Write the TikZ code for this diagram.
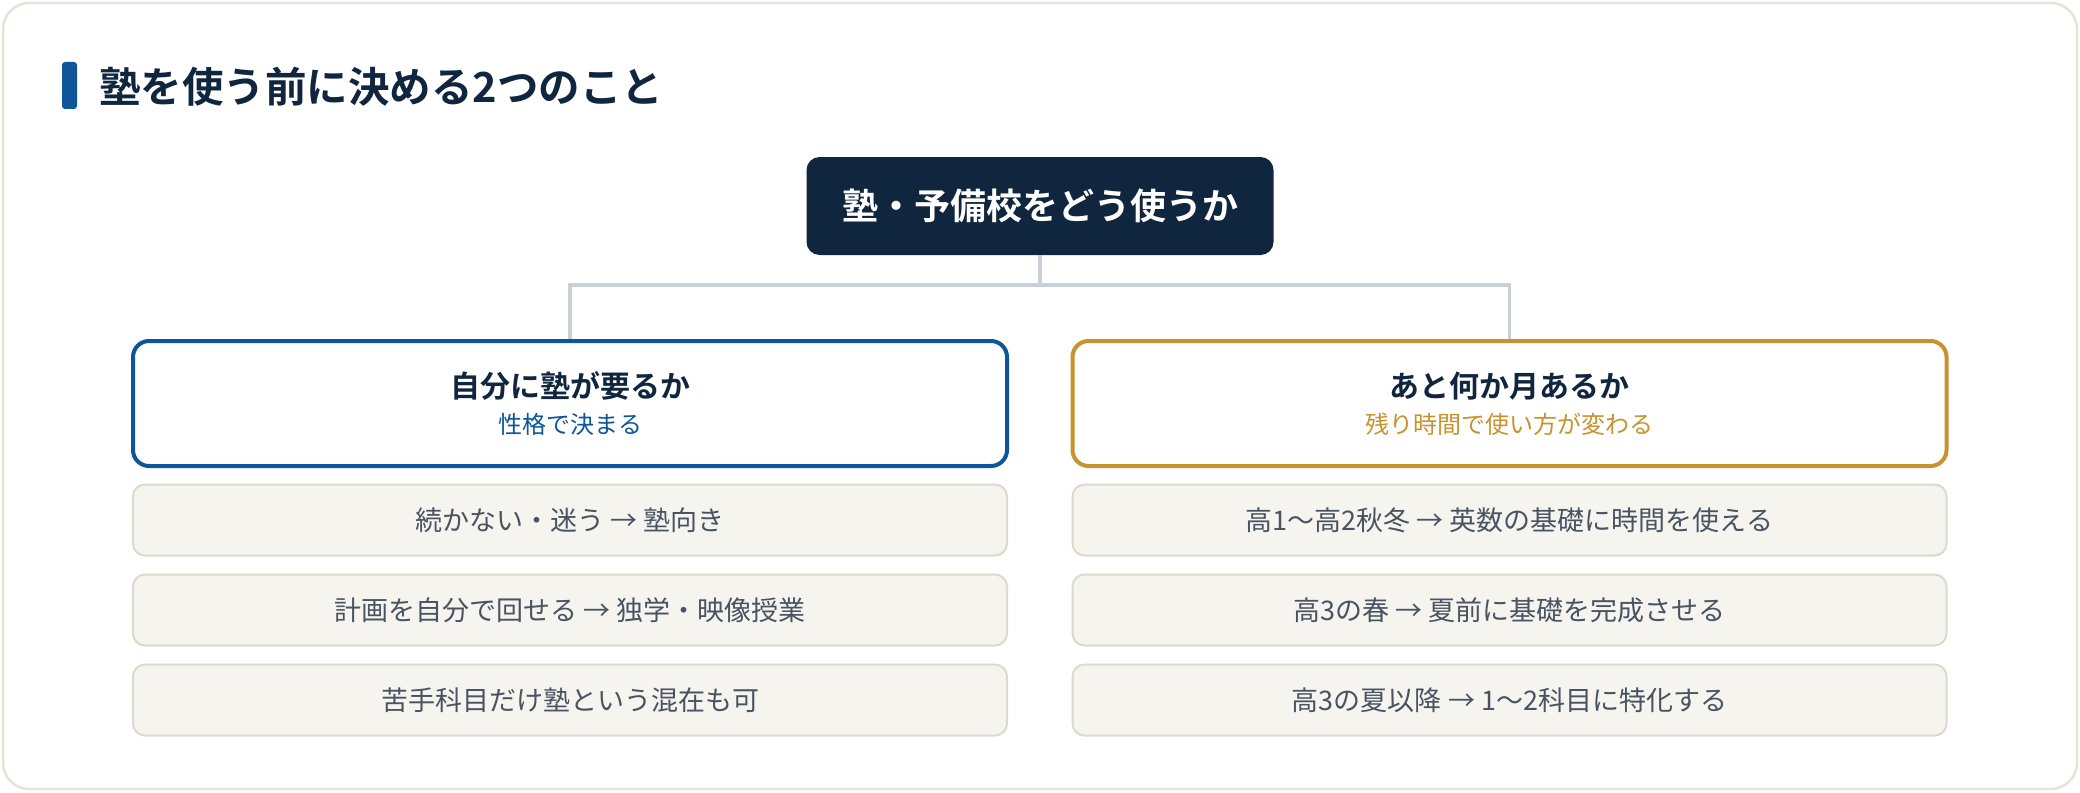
\documentclass[tikz,border=0pt]{standalone}
\usepackage{fontspec}
\setmainfont{Noto Sans CJK JP}[BoldFont={Noto Sans CJK JP Bold}]
\usetikzlibrary{positioning}
\definecolor{navy}{HTML}{10263F}
\definecolor{juku}{HTML}{0E5699}
\definecolor{gold}{HTML}{C8922F}
\definecolor{linkgray}{HTML}{C8D0DA}
\definecolor{itemfill}{HTML}{F5F4EF}
\definecolor{itemline}{HTML}{DDDACB}
\definecolor{itemtext}{HTML}{4A5361}
\definecolor{cardline}{HTML}{E6E4D8}

\begin{document}
\begin{tikzpicture}[x=.5pt, y=-.5pt,
    head/.style={draw, line width=2pt, fill=white, rounded corners=8pt,
      minimum width=437pt, minimum height=62.5pt, align=center, inner sep=0pt},
    item/.style={draw=itemline, line width=1pt, fill=itemfill, rounded corners=6pt,
      minimum width=437pt, minimum height=35.5pt, text=itemtext,
      font=\fontsize{13.5}{16}\selectfont},
    link/.style={draw=linkgray, line width=1.6pt}]
    \useasboundingbox (0,0) rectangle (2080,792);
    \draw[cardline, fill=white, line width=1.25pt, rounded corners=13pt] (3,3) rectangle (2077,789);

    % title
    \fill[juku, rounded corners=1.5pt] (62,62) rectangle (77,109);
    \node[anchor=west, inner sep=0pt, text=navy, font=\bfseries\fontsize{20.75}{24}\selectfont]
      (title) at (99,87) {塾を使う前に決める2つのこと};

    % tree
    \node[fill=navy, rounded corners=6.5pt, minimum width=233.5pt, minimum height=49pt,
      text=white, font=\bfseries\fontsize{18}{22}\selectfont] (root) at (1040,206) {塾・予備校をどう使うか};
    \node[head, draw=juku] (need) at (570,403.5)
      {{\bfseries\fontsize{15}{19}\selectfont\color{navy}自分に塾が要るか}\\[6pt]
       {\fontsize{12}{15}\selectfont\color{juku}性格で決まる}};
    \node[head, draw=gold] (months) at (1509.5,403.5)
      {{\bfseries\fontsize{15}{19}\selectfont\color{navy}あと何か月あるか}\\[6pt]
       {\fontsize{12}{15}\selectfont\color{gold}残り時間で使い方が変わる}};
    \coordinate (fork) at (1040,285);
    \draw[link] (root.south) -- (fork) -| (need.north);
    \draw[link] (fork) -| (months.north);

    \foreach \t [count=\i] in {続かない・迷う → 塾向き, 計画を自分で回せる → 独学・映像授業,
        苦手科目だけ塾という混在も可}
      \node[item] (n\i) at (570,{430+90*\i}) {\t};
    \foreach \t [count=\i] in {高1〜高2秋冬 → 英数の基礎に時間を使える, 高3の春 → 夏前に基礎を完成させる,
        高3の夏以降 → 1〜2科目に特化する}
      \node[item] (m\i) at (1509.5,{430+90*\i}) {\t};
\end{tikzpicture}
\end{document}
